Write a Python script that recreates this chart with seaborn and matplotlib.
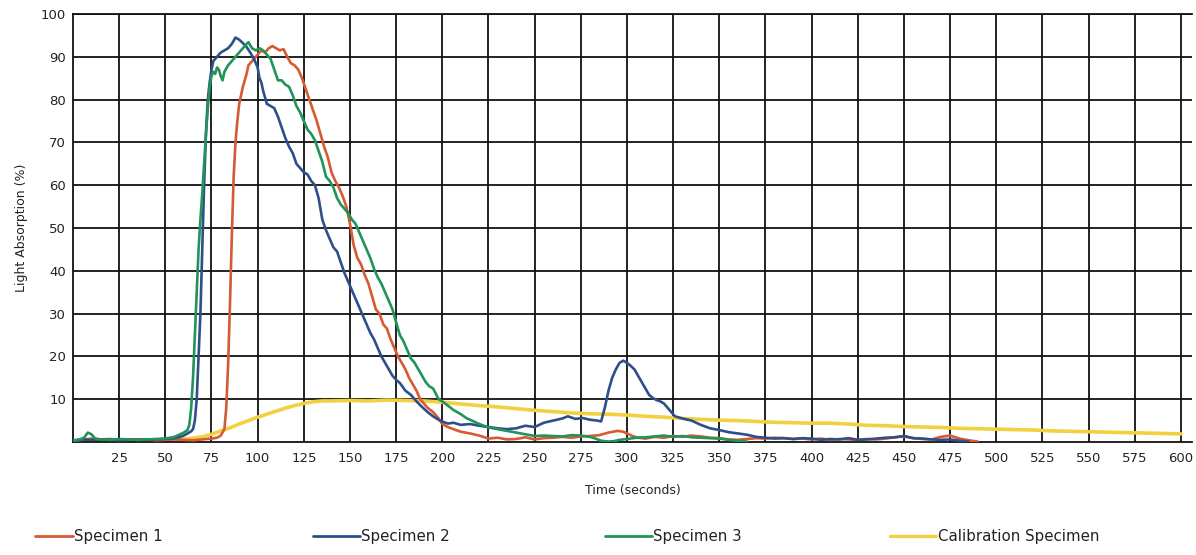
import numpy as np
import pandas as pd
import matplotlib
matplotlib.use("Agg")
import matplotlib.pyplot as plt
from matplotlib.lines import Line2D
import seaborn as sns

# ---------------- data ----------------
s1_t = [0,5,10,15,20,25,30,35,40,45,50,55,60,65,70,75,78,80,82,83,84,85,86,87,88,89,90,92,94,95,96,98,100,102,104,106,108,110,112,114,116,118,120,122,124,126,128,130,132,134,136,138,140,142,144,146,148,150,152,154,156,158,160,162,164,166,168,170,172,174,176,178,180,182,184,186,188,190,192,195,198,200,203,206,210,215,220,225,230,235,240,245,250,255,260,265,270,275,280,285,290,295,298,300,303,306,310,315,320,325,330,335,340,345,350,355,360,365,370,375,380,385,390,395,400,405,410,415,420,425,430,435,440,445,450,455,460,465,470,475,480,485,490]
s1_v = [0.3,0.5,0.8,0.6,0.7,0.5,0.6,0.5,0.6,0.4,0.5,0.6,0.5,0.4,0.6,0.8,1.0,1.5,3.0,8,18,32,48,62,70,75,79,83,86,88,88.5,89.5,90.5,91.5,91,92,92.5,92,91.5,91.8,90,88.5,88,87,85,82.5,80,77.5,75,72,69,66.5,63,61,59.5,57.5,55,51,46,43,41.5,39,37,34,31,30,27.5,26.5,24,22,20,18.5,17,15,13.5,12,10,9,8,7,5.5,4.2,3.5,3,2.4,2,1.5,0.8,1.0,0.6,0.7,1.1,0.6,0.9,1.0,1.2,1.0,1.3,1.4,1.6,2.2,2.6,2.4,2.0,1.4,1.0,0.8,1.2,1.0,1.4,1.2,1.5,1.3,1.0,0.9,0.6,0.5,0.7,0.9,0.8,1.0,0.9,0.7,0.8,0.6,0.8,0.5,0.7,0.6,0.5,0.7,0.6,0.8,1.1,1.3,0.9,0.7,0.6,1.2,1.5,0.8,0.4,0.1]

s2_t = [0,5,10,15,20,25,30,35,40,45,50,55,58,60,62,64,65,66,67,68,69,70,71,72,73,74,75,76,78,80,82,84,86,88,90,92,94,96,98,100,101,102,103,105,107,109,111,113,115,117,119,121,123,125,127,129,131,133,135,137,139,141,143,145,147,149,151,153,155,157,159,161,163,165,167,169,171,173,175,177,180,183,186,189,192,195,198,200,203,206,210,215,220,225,230,235,240,245,250,255,260,265,268,272,276,280,284,286,288,290,292,294,296,298,300,302,304,306,308,310,312,314,316,318,320,322,324,326,330,335,340,345,350,355,360,365,370,375,380,385,390,395,400,405,410,415,420,425,430,435,440,445,450,455,460,465,470,475,480,485]
s2_v = [0.4,0.6,0.5,0.6,0.5,0.4,0.5,0.6,0.5,0.6,0.7,0.9,1.2,1.5,2.0,2.5,3,5,10,20,30,45,60,72,80,84,87,89,90,91,91.5,92,93,94.5,94,93.2,92.3,91,89.5,87.5,85,84,82,79,78.5,78,76,73.5,71,69,67.5,65,64,63,62.5,61,60,57,52,49.5,47.5,45.5,44.5,42,39.5,37.5,35.5,33.5,31.5,29.5,27.5,25.5,24,22,20,18.5,17,15.5,14.5,13.8,12,11,9.5,8.2,7,6,5.2,4.8,4.3,4.5,4.0,4.2,3.8,3.5,3.2,3.0,3.2,3.8,3.5,4.5,5.0,5.5,6.0,5.4,5.6,5.2,5.0,4.8,8,12,15,17,18.5,19,18.5,17.8,17,15.5,14,12.5,11,10.3,9.8,9.5,9.0,8,7,6,5.5,5.0,4.0,3.2,2.8,2.3,2.0,1.7,1.2,1.0,0.8,0.9,0.7,0.9,0.8,0.5,0.7,0.6,0.9,0.5,0.6,0.8,1.0,1.1,1.4,0.9,0.8,0.6,0.5,0.6,0.3,0.1]

s3_t = [0,3,6,8,10,12,15,20,25,30,35,40,45,50,55,58,60,62,63,64,65,66,67,68,69,70,71,72,73,74,75,76,77,78,79,80,81,82,84,86,88,90,92,94,95,97,99,101,103,105,107,109,111,113,115,117,119,121,123,125,127,129,131,133,135,137,139,141,143,145,147,149,151,153,155,157,159,161,163,165,167,169,171,173,175,177,179,181,183,185,187,189,191,193,195,198,200,203,206,210,213,216,220,225,230,235,240,245,250,255,260,265,270,275,280,283,286,290,293,296,300,305,310,315,320,325,330,335,340,345,350,355,360,365]
s3_v = [0.3,0.5,1.0,2.2,1.8,0.8,0.6,0.5,0.7,0.6,0.5,0.6,0.7,0.8,1.2,1.8,2.2,2.8,4,8,15,25,35,45,52,58,65,72,78,83,85.5,86.5,86,87.5,87,85.5,84.5,86.5,88,89,90,91,92,93,93.4,92,91.5,92,91.5,90.5,89.5,87,84.5,84.5,83.5,83,81,78.5,77,75,73,72,70.5,68,65.5,62,61,59.5,57,55.5,54.5,53.5,52,51,49,47,45,43,40.5,38.5,37,35,33,31,28,25,23.5,21.5,19.5,18.5,17,15.5,14,13,12.5,10,9.5,8.5,7.5,6.5,5.6,5,4.2,3.4,3,2.6,2.2,1.8,1.4,1.5,1.4,1.3,1.6,1.5,1.2,0.8,0.3,0.1,0.2,0.5,0.7,1.0,1.1,1.3,1.5,1.2,1.4,1.1,1.0,0.9,0.8,0.5,0.3,0.1]

cal_t = [0,10,20,30,40,50,55,60,65,70,75,80,85,90,95,100,105,110,115,120,125,130,135,140,150,160,170,180,190,200,210,220,230,240,250,260,270,280,290,300,310,320,330,340,350,360,370,380,390,400,410,420,430,440,450,460,470,480,490,500,510,520,530,540,550,560,570,580,590,600]
cal_v = [0.2,0.3,0.4,0.4,0.5,0.5,0.6,0.7,0.9,1.2,1.8,2.6,3.3,4.2,5.0,5.8,6.5,7.2,7.9,8.5,9.0,9.4,9.6,9.6,9.7,9.6,9.8,9.7,9.6,9.3,8.9,8.5,8.2,7.8,7.4,7.1,6.8,6.6,6.5,6.3,6.0,5.8,5.5,5.3,5.1,5.0,4.8,4.6,4.5,4.4,4.4,4.2,3.9,3.8,3.6,3.5,3.4,3.2,3.1,3.0,2.9,2.8,2.6,2.5,2.4,2.3,2.2,2.1,2.0,1.9]

series_names = ["Specimen 1", "Specimen 2", "Specimen 3", "Calibration Specimen"]
x_ticks = list(range(25, 601, 25))
y_ticks = list(range(10, 101, 10))

# ---------------- build long-form table ----------------
frames = []
for name, t, v in [("Calibration Specimen", cal_t, cal_v),
                   ("Specimen 1", s1_t, s1_v),
                   ("Specimen 2", s2_t, s2_v),
                   ("Specimen 3", s3_t, s3_v)]:
    frames.append(pd.DataFrame({"Time": t, "Absorption": v, "Series": name}))
df = pd.concat(frames, ignore_index=True)

colors = {"Specimen 1": "#D65A32",
          "Specimen 2": "#2F4F8A",
          "Specimen 3": "#22935A",
          "Calibration Specimen": "#F2D040"}

sns.set_style("white")
plt.rcParams["font.family"] = ["DejaVu Sans"]

fig = plt.figure(figsize=(11.96, 5.55), dpi=100)
ax = fig.add_axes([73/1196, 1 - 442/555, (1192 - 73)/1196, (442 - 14)/555])

hue_order = ["Calibration Specimen", "Specimen 1", "Specimen 2", "Specimen 3"]
sns.lineplot(data=df, x="Time", y="Absorption", hue="Series", hue_order=hue_order,
             palette=colors, legend=False, ax=ax, linewidth=1.9, estimator=None,
             sort=False)
for line, name in zip(ax.get_lines(), hue_order):
    if name == "Calibration Specimen":
        line.set_linewidth(2.6)
        line.set_zorder(2)
    else:
        line.set_zorder(3)

ax.set_xlim(0, 606)
ax.set_ylim(0, 100)
ax.set_xticks(x_ticks)
ax.set_xticklabels([str(v) for v in x_ticks], fontsize=9.5, color="#222222")
ax.set_yticks(y_ticks)
ax.set_yticklabels([str(v) for v in y_ticks], fontsize=9.5, color="#222222")
ax.tick_params(axis="both", length=0)
ax.tick_params(axis="x", pad=7)
ax.tick_params(axis="y", pad=5)
ax.grid(True, color="#111111", linewidth=1.3)
ax.set_axisbelow(True)
for side in ["left", "bottom", "top"]:
    ax.spines[side].set_visible(True)
    ax.spines[side].set_color("#111111")
    ax.spines[side].set_linewidth(1.3)
ax.spines["right"].set_visible(False)

ax.set_xlabel("Time (seconds)", fontsize=9, labelpad=14, color="#222222")
ax.set_ylabel("Light Absorption (%)", fontsize=9, labelpad=9, color="#222222")

# legend entries placed individually along the bottom
legend_x = [35, 313, 605, 890]
legend_len = [2.5, 3.1, 3.1, 3.1]
for name, xpix, hl in zip(series_names, legend_x, legend_len):
    h = Line2D([0], [0], color=colors[name],
               lw=2.4 if name == "Calibration Specimen" else 2.0)
    leg = fig.legend([h], [name], loc="center left",
                     bbox_to_anchor=(xpix/1196, 1 - 537/555),
                     frameon=False, fontsize=10.8, handlelength=hl,
                     handletextpad=0.1, borderaxespad=0, borderpad=0)
    for txt in leg.get_texts():
        txt.set_color("#222222")

fig.savefig("out.png", dpi=100)
